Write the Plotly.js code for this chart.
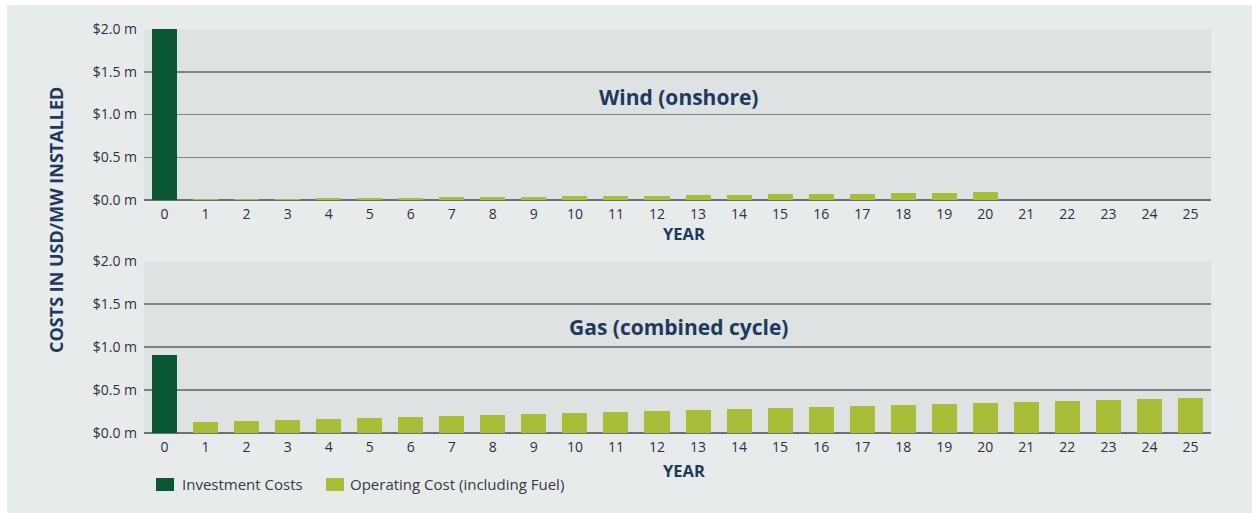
<!DOCTYPE html>
<html>
<head>
<meta charset="utf-8">
<script src="https://cdn.plot.ly/plotly-3.0.1.min.js"></script>
<style>
  html, body { margin: 0; padding: 0; background: #ffffff; width: 1252px; height: 513px; overflow: hidden; }
  #chart { position: absolute; left: 7px; top: 5px; width: 1245px; height: 508px; }
</style>
</head>
<body>
<div id="chart"></div>
<script>
// ---- data ----
const years = [0,1,2,3,4,5,6,7,8,9,10,11,12,13,14,15,16,17,18,19,20,21,22,23,24,25];
const investYears = [0];
const windInvest = [2.0];
const windOpYears = [1,2,3,4,5,6,7,8,9,10,11,12,13,14,15,16,17,18,19,20];
const windOp = [0.006,0.010,0.013,0.018,0.022,0.026,0.030,0.035,0.039,0.043,0.047,0.052,0.056,0.061,0.065,0.070,0.074,0.078,0.083,0.088];
const gasInvest = [0.91];
const gasOpYears = [1,2,3,4,5,6,7,8,9,10,11,12,13,14,15,16,17,18,19,20,21,22,23,24,25];
const gasOp = [0.124,0.134,0.146,0.158,0.169,0.181,0.193,0.208,0.220,0.232,0.246,0.254,0.266,0.281,0.293,0.301,0.316,0.324,0.336,0.352,0.363,0.371,0.383,0.395,0.406];
const yTickVals = [0,0.5,1.0,1.5,2.0];
const yTickText = ['$0.0 m','$0.5 m','$1.0 m','$1.5 m','$2.0 m'];
const seriesNames = ['Investment Costs','Operating Cost (including Fuel)'];
const panelTitles = ['Wind (onshore)','Gas (combined cycle)'];
const xTitle = 'YEAR';
const yTitle = 'COSTS IN USD/MW INSTALLED';

// ---- style ----
const cInvest = '#0b5633';
const cOp = '#a8bd38';
const navy = '#1d3a5e';
const tickCol = '#28323d';
const gridCol = '#7c8484';
const font = 'Open Sans, Noto Sans, sans-serif';

// geometry helpers (page px -> paper)
const OX = 7, OY = 5, L = 137, R = 41, T = 24, B = 80;
const PW = 1245 - L - R, PH = 508 - T - B;
const px = x => (x - OX - L) / PW;
const py = y => 1 - (y - OY - T) / PH;

const barW = 0.61;
function bar(x, y, color, xa, ya, name) {
  return { type: 'bar', x: x, y: y, name: name, xaxis: xa, yaxis: ya,
    width: x.map(() => barW), marker: { color: color, line: { width: 0 } },
    showlegend: false, hoverinfo: 'x+y' };
}

const traces = [
  bar(investYears, windInvest, cInvest, 'x', 'y', seriesNames[0]),
  bar(windOpYears, windOp, cOp, 'x', 'y', seriesNames[1]),
  bar(investYears, gasInvest, cInvest, 'x2', 'y2', seriesNames[0]),
  bar(gasOpYears, gasOp, cOp, 'x2', 'y2', seriesNames[1])
];

const xaxisBase = {
  range: [-0.5, 25.5], tickmode: 'array', tickvals: years, ticktext: years.map(String),
  showgrid: false, zeroline: false, showline: false, ticks: '',
  ticklabelstandoff: 4,
  tickfont: { family: font, size: 14, color: tickCol }, fixedrange: true
};
const yaxisBase = {
  range: [0, 2.0], tickmode: 'array', tickvals: yTickVals, ticktext: yTickText,
  showgrid: true, gridcolor: gridCol, gridwidth: 1.5,
  zeroline: true, zerolinecolor: '#6a7272', zerolinewidth: 1.5,
  showline: false, ticks: '', ticklabelstandoff: 6,
  tickfont: { family: font, size: 14, color: tickCol }, fixedrange: true
};

const dTop = [1 - 171 / PH, 1];
const dBot = [0, 172 / PH];

const annText = (text, x, y, size, extra) => Object.assign({
  text: text, xref: 'paper', yref: 'paper', x: x, y: y,
  xanchor: 'center', yanchor: 'middle', showarrow: false,
  font: { family: font, size: size, color: navy, weight: 700 }
}, extra || {});

const layout = {
  width: 1245, height: 508,
  margin: { l: L, r: R, t: T, b: B, pad: 0 },
  paper_bgcolor: '#e8ebec', plot_bgcolor: '#dfe2e3',
  barmode: 'overlay', bargap: 0,
  showlegend: false,
  xaxis: Object.assign({}, xaxisBase, { anchor: 'y' }),
  yaxis: Object.assign({}, yaxisBase, { domain: dTop, anchor: 'x' }),
  xaxis2: Object.assign({}, xaxisBase, { anchor: 'y2' }),
  yaxis2: Object.assign({}, yaxisBase, { domain: dBot, anchor: 'x2' }),
  annotations: [
    annText(panelTitles[0], px(678), py(97), 21),
    annText(panelTitles[1], px(678), py(327), 21),
    annText(xTitle, px(684), py(233), 16.5),
    annText(xTitle, px(684), py(470), 16.5),
    annText(yTitle, px(56), py(220), 18, { textangle: -90 }),
    { text: seriesNames[0], xref: 'paper', yref: 'paper', x: px(180), y: py(484),
      xanchor: 'left', yanchor: 'middle', showarrow: false,
      font: { family: font, size: 15, color: '#343a41' } },
    { text: seriesNames[1], xref: 'paper', yref: 'paper', x: px(348), y: py(484),
      xanchor: 'left', yanchor: 'middle', showarrow: false,
      font: { family: font, size: 15, color: '#343a41' } }
  ],
  shapes: [
    { type: 'rect', xref: 'paper', yref: 'paper', x0: px(156), x1: px(174), y0: py(478), y1: py(491),
      fillcolor: cInvest, line: { width: 0 } },
    { type: 'rect', xref: 'paper', yref: 'paper', x0: px(326), x1: px(344), y0: py(478), y1: py(491),
      fillcolor: cOp, line: { width: 0 } }
  ]
};

Plotly.newPlot('chart', traces, layout, { displayModeBar: false, staticPlot: true });
</script>
</body>
</html>
